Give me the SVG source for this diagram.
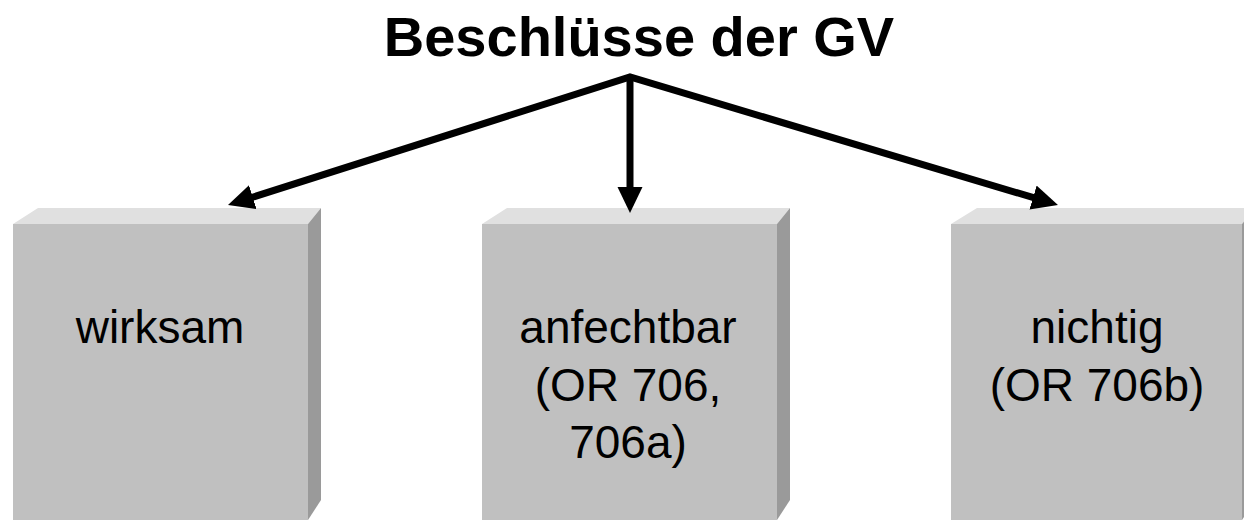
<svg xmlns="http://www.w3.org/2000/svg" width="1244" height="520" viewBox="0 0 1244 520">
<style>
.front{fill:#c0c0c0}
.top{fill:#e0e0e0}
.side{fill:#9a9a9a}
.lbl{font-family:"Liberation Sans",Arial,sans-serif;font-size:46px;fill:#000;text-anchor:middle}
.title{font-family:"Liberation Sans",Arial,sans-serif;font-size:56px;font-weight:bold;fill:#000;text-anchor:middle}
.conn{fill:none;stroke:#000;stroke-width:7;stroke-linejoin:miter;stroke-miterlimit:10}
</style>
<defs>
<marker id="ah" markerUnits="userSpaceOnUse" markerWidth="28" markerHeight="26" refX="11" refY="12.5" orient="auto-start-reverse" viewBox="0 0 28 26">
<path d="M0,0 L26,12.5 L0,25 z" fill="#000"/>
</marker>
</defs>
<rect width="1244" height="520" fill="#fff"/>
<g id="title">
<text class="title" x="639" y="56">Beschlüsse der GV</text>
</g>
<g id="node-wirksam">
<polygon class="top" points="13,224 38,208 321,208 308,224"/>
<polygon class="side" points="308,224 321,208 321,500 308,520"/>
<rect class="front" x="13" y="224" width="295" height="296"/>
<text class="lbl" x="160" y="343">wirksam</text>
</g>
<g id="node-anfechtbar">
<polygon class="top" points="482,224 507,208 790,208 777,224"/>
<polygon class="side" points="777,224 790,208 790,500 777,520"/>
<rect class="front" x="482" y="224" width="295" height="296"/>
<text class="lbl" x="628" y="343">anfechtbar</text>
<text class="lbl" x="628" y="401">(OR 706,</text>
<text class="lbl" x="628" y="458">706a)</text>
</g>
<g id="node-nichtig">
<polygon class="top" points="951,224 977,208 1255,208 1242,224"/>
<polygon class="side" points="1242,224 1255,208 1255,500 1242,520"/>
<rect class="front" x="951" y="224" width="291" height="296"/>
<text class="lbl" x="1097" y="343">nichtig</text>
<text class="lbl" x="1097" y="401">(OR 706b)</text>
</g>
<g id="connectors">
<path class="conn" d="M242.3,200.5 L630,77 L1043.6,200.7" marker-start="url(#ah)" marker-end="url(#ah)"/>
<path class="conn" d="M630,77 L630,198" marker-end="url(#ah)"/>
</g>
</svg>
